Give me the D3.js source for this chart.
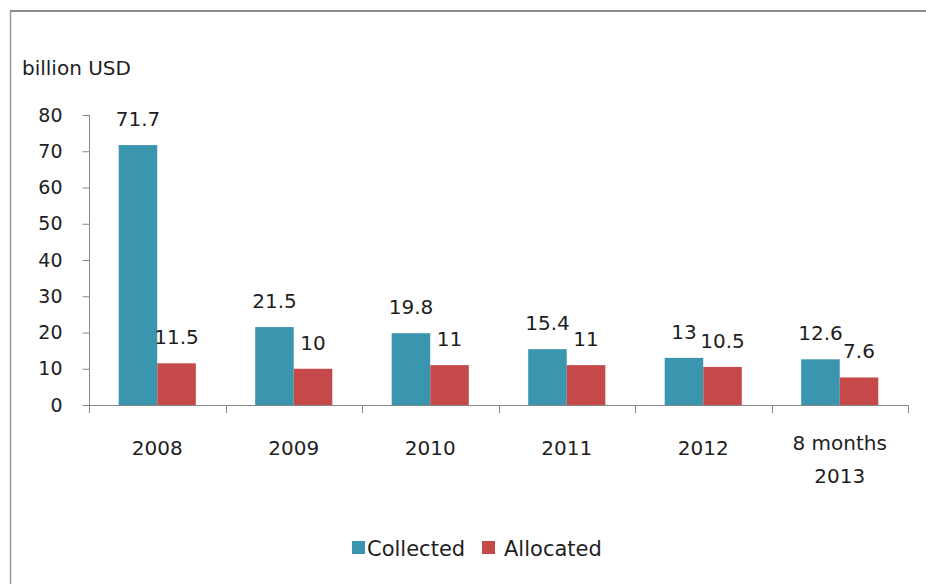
<!DOCTYPE html>
<html>
<head>
<meta charset="utf-8">
<script src="https://cdn.jsdelivr.net/npm/d3@7"></script>
<style>
  html, body { margin: 0; padding: 0; background: #fff; }
  svg { display: block; }
  text { font-family: "DejaVu Sans", Verdana, sans-serif; fill: #1e1e1e; }
</style>
</head>
<body>
<svg id="chart" width="926" height="584"></svg>
<script>
// ---- data ----
const categories = ["2008", "2009", "2010", "2011", "2012", "8 months\n2013"];
const seriesNames = ["Collected", "Allocated"];
const collected = [71.7, 21.5, 19.8, 15.4, 13, 12.6];
const allocated = [11.5, 10, 11, 11, 10.5, 7.6];
const collectedLabels = ["71.7", "21.5", "19.8", "15.4", "13", "12.6"];
const allocatedLabels = ["11.5", "10", "11", "11", "10.5", "7.6"];
const yTicks = [0, 10, 20, 30, 40, 50, 60, 70, 80];
const unitLabel = "billion USD";

const colors = { Collected: "#3a95af", Allocated: "#c6494a" };
const axisColor = "#878787";

const svg = d3.select("#chart");

// frame
svg.append("line").attr("x1", 10).attr("x2", 926).attr("y1", 11).attr("y2", 11)
  .attr("stroke", "#8e8e8e").attr("stroke-width", 2);
svg.append("line").attr("x1", 10.5).attr("x2", 10.5).attr("y1", 11).attr("y2", 584)
  .attr("stroke", "#9a9a9a").attr("stroke-width", 1.5);

// scales
const x = d3.scaleBand().domain(categories).range([89, 908]).paddingInner(0).paddingOuter(0);
const x1 = d3.scaleBand().domain(seriesNames).range([0, x.bandwidth()]).paddingInner(0).paddingOuter(0.77);
const y = d3.scaleLinear().domain([0, 80]).range([405, 115]);

// unit label
svg.append("text").attr("x", 22).attr("y", 75).attr("font-size", 20).text(unitLabel);

// y axis
const yAxis = svg.append("g").attr("transform", "translate(89.5,0)")
  .call(d3.axisLeft(y).tickValues(yTicks).tickSize(7).tickPadding(20).tickFormat(d3.format("d")));
yAxis.select(".domain").attr("stroke", axisColor).attr("d", `M0,${y(80)}V${y(0)}`);
yAxis.selectAll(".tick line").attr("stroke", axisColor);
yAxis.selectAll(".tick text").attr("font-size", 19).attr("fill", "#1e1e1e")
  .attr("font-family", "DejaVu Sans, sans-serif");

// x axis line + boundary ticks
const xg = svg.append("g");
xg.append("line").attr("x1", 89).attr("x2", 908).attr("y1", y(0) + 0.5).attr("y2", y(0) + 0.5)
  .attr("stroke", axisColor);
const bounds = categories.map(c => x(c)).concat([x(categories[categories.length - 1]) + x.bandwidth()]);
xg.selectAll("line.bt").data(bounds).enter().append("line").attr("class", "bt")
  .attr("x1", d => Math.round(d) + 0.5).attr("x2", d => Math.round(d) + 0.5)
  .attr("y1", y(0)).attr("y2", y(0) + 8).attr("stroke", axisColor);

// category labels
categories.forEach(c => {
  const lines = c.split("\n");
  const cx = x(c) + x.bandwidth() / 2;
  const t = svg.append("text").attr("text-anchor", "middle").attr("font-size", 20);
  if (lines.length === 1) {
    t.append("tspan").attr("x", cx).attr("y", 455).text(lines[0]);
  } else {
    lines.forEach((l, i) => t.append("tspan").attr("x", cx).attr("y", 450 + i * 33).text(l));
  }
});

// bars
const rows = categories.map((c, i) => ({
  cat: c,
  vals: [
    { key: "Collected", v: collected[i], label: collectedLabels[i] },
    { key: "Allocated", v: allocated[i], label: allocatedLabels[i] }
  ]
}));
const groups = svg.selectAll("g.grp").data(rows).enter().append("g")
  .attr("class", "grp").attr("transform", d => `translate(${x(d.cat)},0)`);
groups.selectAll("rect").data(d => d.vals).enter().append("rect")
  .attr("x", d => x1(d.key)).attr("width", x1.bandwidth())
  .attr("y", d => y(d.v)).attr("height", d => y(0) - y(d.v))
  .attr("fill", d => colors[d.key]);
groups.selectAll("text.val").data(d => d.vals).enter().append("text").attr("class", "val")
  .attr("x", d => x1(d.key) + x1.bandwidth() / 2).attr("y", d => y(d.v) - 19)
  .attr("text-anchor", "middle").attr("font-size", 20).text(d => d.label);

// legend
const legend = svg.append("g");
const legItems = [
  { key: "Collected", sx: 352, tx: 367 },
  { key: "Allocated", sx: 482, tx: 504 }
];
legItems.forEach(it => {
  legend.append("rect").attr("x", it.sx).attr("y", 541).attr("width", 13).attr("height", 13)
    .attr("fill", colors[it.key]);
  legend.append("text").attr("x", it.tx).attr("y", 556).attr("font-size", 21).text(it.key);
});
</script>
</body>
</html>
